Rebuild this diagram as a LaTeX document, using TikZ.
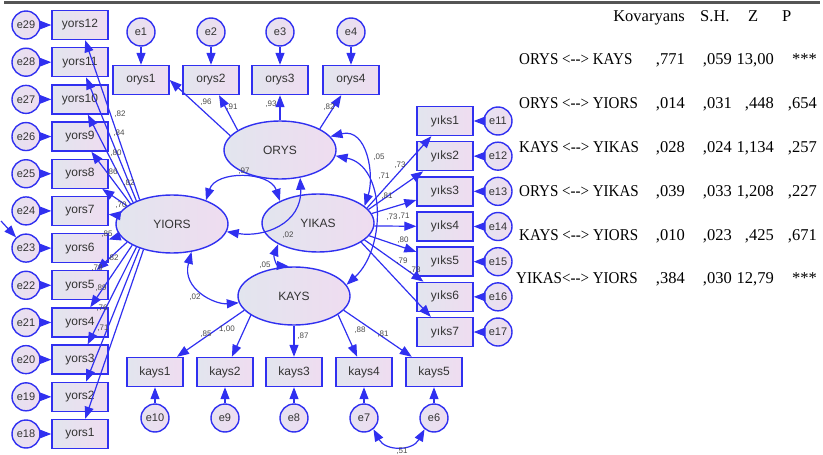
\documentclass[tikz,border=0pt]{standalone}
\usepackage{fontspec}
\setmainfont{Liberation Serif}
\newfontfamily\arialf{Liberation Sans}
\usetikzlibrary{arrows.meta,shapes.geometric}
\definecolor{amosblue}{HTML}{3030F0}
\definecolor{fillL}{HTML}{E2E5EE}
\definecolor{fillR}{HTML}{EFDCF0}
\definecolor{errL}{HTML}{E6E2F0}
\definecolor{errR}{HTML}{EEDCF0}
\definecolor{txtgray}{HTML}{333333}
\definecolor{lblgray}{HTML}{4A4A4A}
\definecolor{topgray}{HTML}{555555}
\newcommand{\pairtxt}[1]{\scalebox{0.91}[1]{#1}}
\begin{document}
\begin{tikzpicture}[x=1pt,y=-1pt,
  obs/.style={rectangle, draw=amosblue, line width=1.4pt, left color=fillL, right color=fillR,
    minimum width=56pt, minimum height=29pt, inner sep=0pt, text=txtgray,
    font=\arialf\fontsize{12}{14}\selectfont},
  lat/.style={ellipse, draw=amosblue, line width=1.4pt, left color=fillL, right color=fillR,
    minimum width=112pt, minimum height=58pt, inner sep=0pt, text=txtgray,
    font=\arialf\fontsize{12}{14}\selectfont},
  err/.style={circle, draw=amosblue, line width=1.4pt, left color=errL, right color=errR,
    minimum size=28pt, inner sep=0pt, text=txtgray,
    font=\arialf\fontsize{11}{13}\selectfont},
  arr/.style={draw=amosblue, line width=1.2pt, -{Triangle[length=12pt,width=9pt]}},
  cov/.style={draw=amosblue, line width=1.2pt,
    {Triangle[length=12pt,width=9pt]}-{Triangle[length=12pt,width=9pt]}},
  lbl/.style={inner sep=0pt, text=lblgray, font=\arialf\fontsize{8}{9}\selectfont},
  tbl/.style={inner sep=0pt, text=black, font=\fontsize{16.5}{18}\selectfont},
  topline/.style={draw=topgray, line width=2.2pt}
]
\useasboundingbox (0,0) rectangle (823,455);
\draw[topline] (4,2.5) -- (820,2.5);

% ---------- latent variables
\node[lat] (orys)  at (280,150) {ORYS};
\node[lat] (yikas) at (318,223) {YIKAS};
\node[lat] (yiors) at (172,224) {YIORS};
\node[lat] (kays)  at (294,296) {KAYS};

% ---------- left column: yors1..yors12
\foreach \i in {1,...,12}{
  \pgfmathsetmacro{\yy}{434-(\i-1)*37.18}
  \pgfmathtruncatemacro{\ee}{17+\i}
  \node[obs] (yors\i) at (80,\yy) {yors\i};
  \node[err] (e\ee) at (26,\yy) {e\ee};
  \draw[arr] (e\ee) -- (yors\i);
}
% ---------- right column: yiks1..yiks7
\foreach \i in {1,...,7}{
  \pgfmathsetmacro{\yy}{121+(\i-1)*35.17}
  \pgfmathtruncatemacro{\ee}{10+\i}
  \node[obs] (yiks\i) at (445,\yy) {yıks\i};
  \node[err] (e\ee) at (498,\yy) {e\ee};
  \draw[arr] (e\ee) -- (yiks\i);
}
% ---------- top row: orys1..orys4
\foreach \i/\xx in {1/141,2/211,3/280,4/351}{
  \node[obs] (orys\i) at (\xx,80) {orys\i};
  \node[err] (e\i) at (\xx,32) {e\i};
  \draw[arr] (e\i) -- (orys\i);
}
% ---------- bottom row: kays1..kays5
\foreach \i/\xx in {1/155,2/225,3/294,4/364,5/434}{
  \pgfmathtruncatemacro{\ee}{11-\i}
  \node[obs] (kays\i) at (\xx,372) {kays\i};
  \node[err] (e\ee) at (\xx,418) {e\ee};
  \draw[arr] (e\ee) -- (kays\i);
}

% stray arrow at the left edge
\coordinate (stray) at (1,221);
\draw[arr] (stray) -- (e23);

% ---------- loadings
\foreach \i/\a in {12/143,11/147,10/151,9/154,8/158,7/171,6/193,5/202,4/208,3/213,2/217,1/222}{
  \draw[arr] (yiors.\a) -- (yors\i);
}
\foreach \i/\a in {1/17,2/15,3/10,4/-3,5/-14,6/-20,7/-24}{
  \draw[arr] (yikas.\a) -- (yiks\i);
}
\draw[arr] (orys.164) -- (orys1.east);
\draw[arr] (orys.155) -- (orys2);
\draw[arr] (orys.90) -- (orys3);
\draw[arr] (orys.28) -- (orys4);
\draw[arr] (kays.196) -- (kays1);
\draw[arr] (kays.204) -- (kays2);
\draw[arr] (kays.-90) -- (kays3);
\draw[arr] (kays.-23) -- (kays4);
\draw[arr] (kays.-16) -- (kays5);

% ---------- covariances
\draw[cov] (yiors.35) .. controls +(10,-30) and +(-10,-30) .. (yikas.150);
\draw[cov] (orys.-54) .. controls +(2,46) and +(37,6) .. (yiors.-8);
\draw[cov] (yiors.-55) .. controls +(-10,37) and +(-24,2) .. (kays.187);
\draw[cov] (yikas.208) .. controls +(-5,13) and +(-12,-1) .. (kays.100);
\draw[cov] (orys.-6) .. controls +(50,10) and +(40,-37) .. (kays.12);
\draw[cov] (orys.15) .. controls +(37,-9) and +(10,-30) .. (yikas.20);
\draw[cov] (e7.-50) .. controls +(12,22) and +(-12,22) .. (e6.-130);

% ---------- path labels
\node[lbl] (l1)  at (120,114) {,82};
\node[lbl] (l2)  at (119,133) {,84};
\node[lbl] (l3)  at (116,153) {,80};
\node[lbl] (l4)  at (112,172) {,86};
\node[lbl] (l5)  at (129,183) {,82};
\node[lbl] (l6)  at (121,205) {,70};
\node[lbl] (l7)  at (107,234) {,85};
\node[lbl] (l8)  at (113,258) {,82};
\node[lbl] (l9)  at (97,268)  {,78};
\node[lbl] (l10) at (101,288) {,89};
\node[lbl] (l11) at (102,308) {,76};
\node[lbl] (l12) at (103,328) {,71};
\node[lbl] (l13) at (206,102) {,96};
\node[lbl] (l14) at (232,107) {,91};
\node[lbl] (l15) at (271,104) {,93};
\node[lbl] (l16) at (329,107) {,82};
\node[lbl] (l17) at (379,157) {,05};
\node[lbl] (l18) at (400,165) {,73};
\node[lbl] (l19) at (384,176) {,71};
\node[lbl] (l20) at (387,196) {,81};
\node[lbl] (l21) at (392,217) {,73};
\node[lbl] (l22) at (404,216) {,71};
\node[lbl] (l23) at (403,240) {,80};
\node[lbl] (l24) at (402,261) {,79};
\node[lbl] (l25) at (415,270) {,78};
\node[lbl] (l26) at (244,171) {,97};
\node[lbl] (l27) at (288,235) {,02};
\node[lbl] (l28) at (265,265) {,05};
\node[lbl] (l29) at (195,297) {,02};
\node[lbl] (l30) at (206,334) {,85};
\node[lbl] (l31) at (227,329) {1,00};
\node[lbl] (l32) at (303,336) {,87};
\node[lbl] (l33) at (360,330) {,88};
\node[lbl] (l34) at (383,334) {,81};
\node[lbl] (l35) at (402,451.5) {,51};

% ---------- table
\node[tbl, anchor=base east] (hK) at (685,21) {Kovaryans};
\node[tbl, anchor=base west] (hS) at (700,21) {S.H.};
\node[tbl, anchor=base west] (hZ) at (748,21) {Z};
\node[tbl, anchor=base west] (hP) at (782,21) {P};

\node[tbl, anchor=base west] (r1a) at (519,64) {\pairtxt{ORYS <-{}-> KAYS}};
\node[tbl, anchor=base east] (r1b) at (685,64) {,771};
\node[tbl, anchor=base east] (r1c) at (732,64) {,059};
\node[tbl, anchor=base east] (r1d) at (774,64) {13,00};
\node[tbl, anchor=base east] (r1e) at (817,64) {***};

\node[tbl, anchor=base west] (r2a) at (519,108) {\pairtxt{ORYS <-{}-> YIORS}};
\node[tbl, anchor=base east] (r2b) at (685,108) {,014};
\node[tbl, anchor=base east] (r2c) at (732,108) {,031};
\node[tbl, anchor=base east] (r2d) at (774,108) {,448};
\node[tbl, anchor=base east] (r2e) at (817,108) {,654};

\node[tbl, anchor=base west] (r3a) at (519,152) {\pairtxt{KAYS <-{}-> YIKAS}};
\node[tbl, anchor=base east] (r3b) at (685,152) {,028};
\node[tbl, anchor=base east] (r3c) at (732,152) {,024};
\node[tbl, anchor=base east] (r3d) at (774,152) {1,134};
\node[tbl, anchor=base east] (r3e) at (817,152) {,257};

\node[tbl, anchor=base west] (r4a) at (519,196) {\pairtxt{ORYS <-{}-> YIKAS}};
\node[tbl, anchor=base east] (r4b) at (685,196) {,039};
\node[tbl, anchor=base east] (r4c) at (732,196) {,033};
\node[tbl, anchor=base east] (r4d) at (774,196) {1,208};
\node[tbl, anchor=base east] (r4e) at (817,196) {,227};

\node[tbl, anchor=base west] (r5a) at (519,240) {\pairtxt{KAYS <-{}-> YIORS}};
\node[tbl, anchor=base east] (r5b) at (685,240) {,010};
\node[tbl, anchor=base east] (r5c) at (732,240) {,023};
\node[tbl, anchor=base east] (r5d) at (774,240) {,425};
\node[tbl, anchor=base east] (r5e) at (817,240) {,671};

\node[tbl, anchor=base west] (r6a) at (516,283) {\pairtxt{YIKAS<-{}-> YIORS}};
\node[tbl, anchor=base east] (r6b) at (685,283) {,384};
\node[tbl, anchor=base east] (r6c) at (732,283) {,030};
\node[tbl, anchor=base east] (r6d) at (774,283) {12,79};
\node[tbl, anchor=base east] (r6e) at (817,283) {***};
\end{tikzpicture}
\end{document}
